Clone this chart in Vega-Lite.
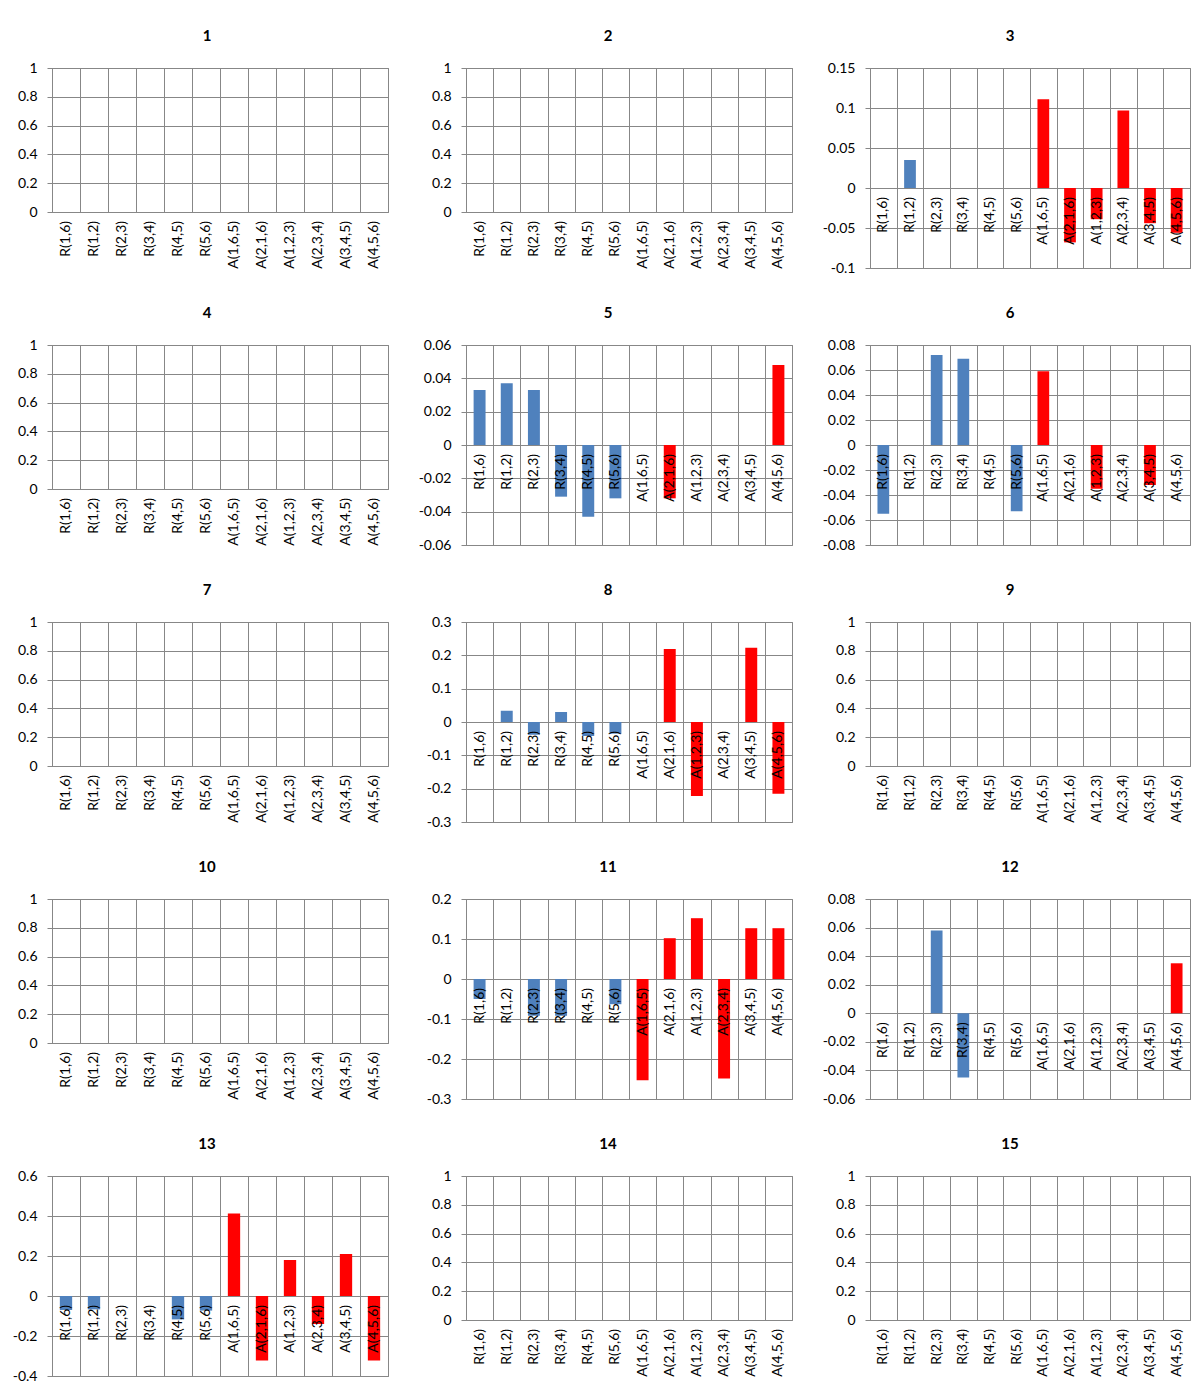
{
  "$schema": "https://vega.github.io/schema/vega-lite/v6.json",
  "padding": {"left": 11, "top": 28, "right": 0, "bottom": 0},
  "background": "white",
  "data": {"values": [
    {"panel":1,"pair":"R(1,6)","value":0},{"panel":1,"pair":"R(1,2)","value":0},{"panel":1,"pair":"R(2,3)","value":0},{"panel":1,"pair":"R(3,4)","value":0},{"panel":1,"pair":"R(4,5)","value":0},{"panel":1,"pair":"R(5,6)","value":0},{"panel":1,"pair":"A(1,6,5)","value":0},{"panel":1,"pair":"A(2,1,6)","value":0},{"panel":1,"pair":"A(1,2,3)","value":0},{"panel":1,"pair":"A(2,3,4)","value":0},{"panel":1,"pair":"A(3,4,5)","value":0},{"panel":1,"pair":"A(4,5,6)","value":0},
    {"panel":2,"pair":"R(1,6)","value":0},{"panel":2,"pair":"R(1,2)","value":0},{"panel":2,"pair":"R(2,3)","value":0},{"panel":2,"pair":"R(3,4)","value":0},{"panel":2,"pair":"R(4,5)","value":0},{"panel":2,"pair":"R(5,6)","value":0},{"panel":2,"pair":"A(1,6,5)","value":0},{"panel":2,"pair":"A(2,1,6)","value":0},{"panel":2,"pair":"A(1,2,3)","value":0},{"panel":2,"pair":"A(2,3,4)","value":0},{"panel":2,"pair":"A(3,4,5)","value":0},{"panel":2,"pair":"A(4,5,6)","value":0},
    {"panel":3,"pair":"R(1,6)","value":0},{"panel":3,"pair":"R(1,2)","value":0.035},{"panel":3,"pair":"R(2,3)","value":0},{"panel":3,"pair":"R(3,4)","value":0},{"panel":3,"pair":"R(4,5)","value":0},{"panel":3,"pair":"R(5,6)","value":0},{"panel":3,"pair":"A(1,6,5)","value":0.111},{"panel":3,"pair":"A(2,1,6)","value":-0.068},{"panel":3,"pair":"A(1,2,3)","value":-0.039},{"panel":3,"pair":"A(2,3,4)","value":0.097},{"panel":3,"pair":"A(3,4,5)","value":-0.044},{"panel":3,"pair":"A(4,5,6)","value":-0.056},
    {"panel":4,"pair":"R(1,6)","value":0},{"panel":4,"pair":"R(1,2)","value":0},{"panel":4,"pair":"R(2,3)","value":0},{"panel":4,"pair":"R(3,4)","value":0},{"panel":4,"pair":"R(4,5)","value":0},{"panel":4,"pair":"R(5,6)","value":0},{"panel":4,"pair":"A(1,6,5)","value":0},{"panel":4,"pair":"A(2,1,6)","value":0},{"panel":4,"pair":"A(1,2,3)","value":0},{"panel":4,"pair":"A(2,3,4)","value":0},{"panel":4,"pair":"A(3,4,5)","value":0},{"panel":4,"pair":"A(4,5,6)","value":0},
    {"panel":5,"pair":"R(1,6)","value":0.033},{"panel":5,"pair":"R(1,2)","value":0.037},{"panel":5,"pair":"R(2,3)","value":0.033},{"panel":5,"pair":"R(3,4)","value":-0.031},{"panel":5,"pair":"R(4,5)","value":-0.043},{"panel":5,"pair":"R(5,6)","value":-0.032},{"panel":5,"pair":"A(1,6,5)","value":0},{"panel":5,"pair":"A(2,1,6)","value":-0.032},{"panel":5,"pair":"A(1,2,3)","value":0},{"panel":5,"pair":"A(2,3,4)","value":0},{"panel":5,"pair":"A(3,4,5)","value":0},{"panel":5,"pair":"A(4,5,6)","value":0.048},
    {"panel":6,"pair":"R(1,6)","value":-0.055},{"panel":6,"pair":"R(1,2)","value":0},{"panel":6,"pair":"R(2,3)","value":0.072},{"panel":6,"pair":"R(3,4)","value":0.069},{"panel":6,"pair":"R(4,5)","value":0},{"panel":6,"pair":"R(5,6)","value":-0.053},{"panel":6,"pair":"A(1,6,5)","value":0.059},{"panel":6,"pair":"A(2,1,6)","value":0},{"panel":6,"pair":"A(1,2,3)","value":-0.035},{"panel":6,"pair":"A(2,3,4)","value":0},{"panel":6,"pair":"A(3,4,5)","value":-0.032},{"panel":6,"pair":"A(4,5,6)","value":0},
    {"panel":7,"pair":"R(1,6)","value":0},{"panel":7,"pair":"R(1,2)","value":0},{"panel":7,"pair":"R(2,3)","value":0},{"panel":7,"pair":"R(3,4)","value":0},{"panel":7,"pair":"R(4,5)","value":0},{"panel":7,"pair":"R(5,6)","value":0},{"panel":7,"pair":"A(1,6,5)","value":0},{"panel":7,"pair":"A(2,1,6)","value":0},{"panel":7,"pair":"A(1,2,3)","value":0},{"panel":7,"pair":"A(2,3,4)","value":0},{"panel":7,"pair":"A(3,4,5)","value":0},{"panel":7,"pair":"A(4,5,6)","value":0},
    {"panel":8,"pair":"R(1,6)","value":0},{"panel":8,"pair":"R(1,2)","value":0.034},{"panel":8,"pair":"R(2,3)","value":-0.038},{"panel":8,"pair":"R(3,4)","value":0.03},{"panel":8,"pair":"R(4,5)","value":-0.042},{"panel":8,"pair":"R(5,6)","value":-0.035},{"panel":8,"pair":"A(1,6,5)","value":0},{"panel":8,"pair":"A(2,1,6)","value":0.219},{"panel":8,"pair":"A(1,2,3)","value":-0.222},{"panel":8,"pair":"A(2,3,4)","value":0},{"panel":8,"pair":"A(3,4,5)","value":0.223},{"panel":8,"pair":"A(4,5,6)","value":-0.215},
    {"panel":9,"pair":"R(1,6)","value":0},{"panel":9,"pair":"R(1,2)","value":0},{"panel":9,"pair":"R(2,3)","value":0},{"panel":9,"pair":"R(3,4)","value":0},{"panel":9,"pair":"R(4,5)","value":0},{"panel":9,"pair":"R(5,6)","value":0},{"panel":9,"pair":"A(1,6,5)","value":0},{"panel":9,"pair":"A(2,1,6)","value":0},{"panel":9,"pair":"A(1,2,3)","value":0},{"panel":9,"pair":"A(2,3,4)","value":0},{"panel":9,"pair":"A(3,4,5)","value":0},{"panel":9,"pair":"A(4,5,6)","value":0},
    {"panel":10,"pair":"R(1,6)","value":0},{"panel":10,"pair":"R(1,2)","value":0},{"panel":10,"pair":"R(2,3)","value":0},{"panel":10,"pair":"R(3,4)","value":0},{"panel":10,"pair":"R(4,5)","value":0},{"panel":10,"pair":"R(5,6)","value":0},{"panel":10,"pair":"A(1,6,5)","value":0},{"panel":10,"pair":"A(2,1,6)","value":0},{"panel":10,"pair":"A(1,2,3)","value":0},{"panel":10,"pair":"A(2,3,4)","value":0},{"panel":10,"pair":"A(3,4,5)","value":0},{"panel":10,"pair":"A(4,5,6)","value":0},
    {"panel":11,"pair":"R(1,6)","value":-0.05},{"panel":11,"pair":"R(1,2)","value":0},{"panel":11,"pair":"R(2,3)","value":-0.092},{"panel":11,"pair":"R(3,4)","value":-0.092},{"panel":11,"pair":"R(4,5)","value":0},{"panel":11,"pair":"R(5,6)","value":-0.063},{"panel":11,"pair":"A(1,6,5)","value":-0.253},{"panel":11,"pair":"A(2,1,6)","value":0.102},{"panel":11,"pair":"A(1,2,3)","value":0.152},{"panel":11,"pair":"A(2,3,4)","value":-0.249},{"panel":11,"pair":"A(3,4,5)","value":0.127},{"panel":11,"pair":"A(4,5,6)","value":0.127},
    {"panel":12,"pair":"R(1,6)","value":0},{"panel":12,"pair":"R(1,2)","value":0},{"panel":12,"pair":"R(2,3)","value":0.058},{"panel":12,"pair":"R(3,4)","value":-0.045},{"panel":12,"pair":"R(4,5)","value":0},{"panel":12,"pair":"R(5,6)","value":0},{"panel":12,"pair":"A(1,6,5)","value":0},{"panel":12,"pair":"A(2,1,6)","value":0},{"panel":12,"pair":"A(1,2,3)","value":0},{"panel":12,"pair":"A(2,3,4)","value":0},{"panel":12,"pair":"A(3,4,5)","value":0},{"panel":12,"pair":"A(4,5,6)","value":0.035},
    {"panel":13,"pair":"R(1,6)","value":-0.07},{"panel":13,"pair":"R(1,2)","value":-0.067},{"panel":13,"pair":"R(2,3)","value":0},{"panel":13,"pair":"R(3,4)","value":0},{"panel":13,"pair":"R(4,5)","value":-0.117},{"panel":13,"pair":"R(5,6)","value":-0.073},{"panel":13,"pair":"A(1,6,5)","value":0.413},{"panel":13,"pair":"A(2,1,6)","value":-0.323},{"panel":13,"pair":"A(1,2,3)","value":0.18},{"panel":13,"pair":"A(2,3,4)","value":-0.14},{"panel":13,"pair":"A(3,4,5)","value":0.21},{"panel":13,"pair":"A(4,5,6)","value":-0.323},
    {"panel":14,"pair":"R(1,6)","value":0},{"panel":14,"pair":"R(1,2)","value":0},{"panel":14,"pair":"R(2,3)","value":0},{"panel":14,"pair":"R(3,4)","value":0},{"panel":14,"pair":"R(4,5)","value":0},{"panel":14,"pair":"R(5,6)","value":0},{"panel":14,"pair":"A(1,6,5)","value":0},{"panel":14,"pair":"A(2,1,6)","value":0},{"panel":14,"pair":"A(1,2,3)","value":0},{"panel":14,"pair":"A(2,3,4)","value":0},{"panel":14,"pair":"A(3,4,5)","value":0},{"panel":14,"pair":"A(4,5,6)","value":0},
    {"panel":15,"pair":"R(1,6)","value":0},{"panel":15,"pair":"R(1,2)","value":0},{"panel":15,"pair":"R(2,3)","value":0},{"panel":15,"pair":"R(3,4)","value":0},{"panel":15,"pair":"R(4,5)","value":0},{"panel":15,"pair":"R(5,6)","value":0},{"panel":15,"pair":"A(1,6,5)","value":0},{"panel":15,"pair":"A(2,1,6)","value":0},{"panel":15,"pair":"A(1,2,3)","value":0},{"panel":15,"pair":"A(2,3,4)","value":0},{"panel":15,"pair":"A(3,4,5)","value":0},{"panel":15,"pair":"A(4,5,6)","value":0}
  ]},
  "columns": 3,
  "align": "each",
  "bounds": "flush",
  "spacing": {"row": 77, "column": 78},
  "concat": [
    {"width": 336, "height": 144, "title": {"text": "1", "dx": -13},
     "transform": [{"filter": "datum.panel === 1"}],
     "encoding": {"x": {"field": "pair", "type": "nominal", "sort": null, "scale": {"paddingInner": 0, "paddingOuter": 0}, "axis": {"labels": false, "ticks": false, "domain": false, "grid": true, "tickBand": "extent", "title": null}}},
     "layer": [
       {"mark": {"type": "bar", "width": {"band": 0.44}},
        "encoding": {"y": {"field": "value", "type": "quantitative", "scale": {"domain": [0, 1], "nice": false, "zero": false}, "axis": {"values": [0, 0.2, 0.4, 0.6, 0.8, 1], "tickCount": 20, "format": "~g", "labelOverlap": false, "title": null}},
                     "color": {"condition": {"test": "datum.pair[0] === 'R'", "value": "#4F81BD"}, "value": "#FF0000"}}},
       {"mark": {"type": "text", "angle": 270, "align": "right", "baseline": "middle", "dx": -9, "font": "Lato", "fontSize": 14, "color": "#000"},
        "encoding": {"y": {"datum": 0}, "text": {"field": "pair"}}}
     ]},
    {"width": 326, "height": 144, "title": {"text": "2", "dx": -21},
     "transform": [{"filter": "datum.panel === 2"}],
     "encoding": {"x": {"field": "pair", "type": "nominal", "sort": null, "scale": {"paddingInner": 0, "paddingOuter": 0}, "axis": {"labels": false, "ticks": false, "domain": false, "grid": true, "tickBand": "extent", "title": null}}},
     "layer": [
       {"mark": {"type": "bar", "width": {"band": 0.44}},
        "encoding": {"y": {"field": "value", "type": "quantitative", "scale": {"domain": [0, 1], "nice": false, "zero": false}, "axis": {"values": [0, 0.2, 0.4, 0.6, 0.8, 1], "tickCount": 20, "format": "~g", "labelOverlap": false, "title": null}},
                     "color": {"condition": {"test": "datum.pair[0] === 'R'", "value": "#4F81BD"}, "value": "#FF0000"}}},
       {"mark": {"type": "text", "angle": 270, "align": "right", "baseline": "middle", "dx": -9, "font": "Lato", "fontSize": 14, "color": "#000"},
        "encoding": {"y": {"datum": 0}, "text": {"field": "pair"}}}
     ]},
    {"width": 320, "height": 200, "title": {"text": "3", "dx": -20},
     "transform": [{"filter": "datum.panel === 3"}],
     "encoding": {"x": {"field": "pair", "type": "nominal", "sort": null, "scale": {"paddingInner": 0, "paddingOuter": 0}, "axis": {"labels": false, "ticks": false, "domain": false, "grid": true, "tickBand": "extent", "title": null}}},
     "layer": [
       {"mark": {"type": "bar", "width": {"band": 0.44}},
        "encoding": {"y": {"field": "value", "type": "quantitative", "scale": {"domain": [-0.1, 0.15], "nice": false, "zero": false}, "axis": {"values": [-0.1, -0.05, 0, 0.05, 0.1, 0.15], "tickCount": 20, "format": "~g", "labelOverlap": false, "title": null}},
                     "color": {"condition": {"test": "datum.pair[0] === 'R'", "value": "#4F81BD"}, "value": "#FF0000"}}},
       {"mark": {"type": "text", "angle": 270, "align": "right", "baseline": "middle", "dx": -9, "font": "Lato", "fontSize": 14, "color": "#000"},
        "encoding": {"y": {"datum": 0}, "text": {"field": "pair"}}}
     ]},
    {"width": 336, "height": 144, "title": {"text": "4", "dx": -13},
     "transform": [{"filter": "datum.panel === 4"}],
     "encoding": {"x": {"field": "pair", "type": "nominal", "sort": null, "scale": {"paddingInner": 0, "paddingOuter": 0}, "axis": {"labels": false, "ticks": false, "domain": false, "grid": true, "tickBand": "extent", "title": null}}},
     "layer": [
       {"mark": {"type": "bar", "width": {"band": 0.44}},
        "encoding": {"y": {"field": "value", "type": "quantitative", "scale": {"domain": [0, 1], "nice": false, "zero": false}, "axis": {"values": [0, 0.2, 0.4, 0.6, 0.8, 1], "tickCount": 20, "format": "~g", "labelOverlap": false, "title": null}},
                     "color": {"condition": {"test": "datum.pair[0] === 'R'", "value": "#4F81BD"}, "value": "#FF0000"}}},
       {"mark": {"type": "text", "angle": 270, "align": "right", "baseline": "middle", "dx": -9, "font": "Lato", "fontSize": 14, "color": "#000"},
        "encoding": {"y": {"datum": 0}, "text": {"field": "pair"}}}
     ]},
    {"width": 326, "height": 200, "title": {"text": "5", "dx": -21},
     "transform": [{"filter": "datum.panel === 5"}],
     "encoding": {"x": {"field": "pair", "type": "nominal", "sort": null, "scale": {"paddingInner": 0, "paddingOuter": 0}, "axis": {"labels": false, "ticks": false, "domain": false, "grid": true, "tickBand": "extent", "title": null}}},
     "layer": [
       {"mark": {"type": "bar", "width": {"band": 0.44}},
        "encoding": {"y": {"field": "value", "type": "quantitative", "scale": {"domain": [-0.06, 0.06], "nice": false, "zero": false}, "axis": {"values": [-0.06, -0.04, -0.02, 0, 0.02, 0.04, 0.06], "tickCount": 20, "format": "~g", "labelOverlap": false, "title": null}},
                     "color": {"condition": {"test": "datum.pair[0] === 'R'", "value": "#4F81BD"}, "value": "#FF0000"}}},
       {"mark": {"type": "text", "angle": 270, "align": "right", "baseline": "middle", "dx": -9, "font": "Lato", "fontSize": 14, "color": "#000"},
        "encoding": {"y": {"datum": 0}, "text": {"field": "pair"}}}
     ]},
    {"width": 320, "height": 200, "title": {"text": "6", "dx": -20},
     "transform": [{"filter": "datum.panel === 6"}],
     "encoding": {"x": {"field": "pair", "type": "nominal", "sort": null, "scale": {"paddingInner": 0, "paddingOuter": 0}, "axis": {"labels": false, "ticks": false, "domain": false, "grid": true, "tickBand": "extent", "title": null}}},
     "layer": [
       {"mark": {"type": "bar", "width": {"band": 0.44}},
        "encoding": {"y": {"field": "value", "type": "quantitative", "scale": {"domain": [-0.08, 0.08], "nice": false, "zero": false}, "axis": {"values": [-0.08, -0.06, -0.04, -0.02, 0, 0.02, 0.04, 0.06, 0.08], "tickCount": 20, "format": "~g", "labelOverlap": false, "title": null}},
                     "color": {"condition": {"test": "datum.pair[0] === 'R'", "value": "#4F81BD"}, "value": "#FF0000"}}},
       {"mark": {"type": "text", "angle": 270, "align": "right", "baseline": "middle", "dx": -9, "font": "Lato", "fontSize": 14, "color": "#000"},
        "encoding": {"y": {"datum": 0}, "text": {"field": "pair"}}}
     ]},
    {"width": 336, "height": 144, "title": {"text": "7", "dx": -13},
     "transform": [{"filter": "datum.panel === 7"}],
     "encoding": {"x": {"field": "pair", "type": "nominal", "sort": null, "scale": {"paddingInner": 0, "paddingOuter": 0}, "axis": {"labels": false, "ticks": false, "domain": false, "grid": true, "tickBand": "extent", "title": null}}},
     "layer": [
       {"mark": {"type": "bar", "width": {"band": 0.44}},
        "encoding": {"y": {"field": "value", "type": "quantitative", "scale": {"domain": [0, 1], "nice": false, "zero": false}, "axis": {"values": [0, 0.2, 0.4, 0.6, 0.8, 1], "tickCount": 20, "format": "~g", "labelOverlap": false, "title": null}},
                     "color": {"condition": {"test": "datum.pair[0] === 'R'", "value": "#4F81BD"}, "value": "#FF0000"}}},
       {"mark": {"type": "text", "angle": 270, "align": "right", "baseline": "middle", "dx": -9, "font": "Lato", "fontSize": 14, "color": "#000"},
        "encoding": {"y": {"datum": 0}, "text": {"field": "pair"}}}
     ]},
    {"width": 326, "height": 200, "title": {"text": "8", "dx": -21},
     "transform": [{"filter": "datum.panel === 8"}],
     "encoding": {"x": {"field": "pair", "type": "nominal", "sort": null, "scale": {"paddingInner": 0, "paddingOuter": 0}, "axis": {"labels": false, "ticks": false, "domain": false, "grid": true, "tickBand": "extent", "title": null}}},
     "layer": [
       {"mark": {"type": "bar", "width": {"band": 0.44}},
        "encoding": {"y": {"field": "value", "type": "quantitative", "scale": {"domain": [-0.3, 0.3], "nice": false, "zero": false}, "axis": {"values": [-0.3, -0.2, -0.1, 0, 0.1, 0.2, 0.3], "tickCount": 20, "format": "~g", "labelOverlap": false, "title": null}},
                     "color": {"condition": {"test": "datum.pair[0] === 'R'", "value": "#4F81BD"}, "value": "#FF0000"}}},
       {"mark": {"type": "text", "angle": 270, "align": "right", "baseline": "middle", "dx": -9, "font": "Lato", "fontSize": 14, "color": "#000"},
        "encoding": {"y": {"datum": 0}, "text": {"field": "pair"}}}
     ]},
    {"width": 320, "height": 144, "title": {"text": "9", "dx": -20},
     "transform": [{"filter": "datum.panel === 9"}],
     "encoding": {"x": {"field": "pair", "type": "nominal", "sort": null, "scale": {"paddingInner": 0, "paddingOuter": 0}, "axis": {"labels": false, "ticks": false, "domain": false, "grid": true, "tickBand": "extent", "title": null}}},
     "layer": [
       {"mark": {"type": "bar", "width": {"band": 0.44}},
        "encoding": {"y": {"field": "value", "type": "quantitative", "scale": {"domain": [0, 1], "nice": false, "zero": false}, "axis": {"values": [0, 0.2, 0.4, 0.6, 0.8, 1], "tickCount": 20, "format": "~g", "labelOverlap": false, "title": null}},
                     "color": {"condition": {"test": "datum.pair[0] === 'R'", "value": "#4F81BD"}, "value": "#FF0000"}}},
       {"mark": {"type": "text", "angle": 270, "align": "right", "baseline": "middle", "dx": -9, "font": "Lato", "fontSize": 14, "color": "#000"},
        "encoding": {"y": {"datum": 0}, "text": {"field": "pair"}}}
     ]},
    {"width": 336, "height": 144, "title": {"text": "10", "dx": -13},
     "transform": [{"filter": "datum.panel === 10"}],
     "encoding": {"x": {"field": "pair", "type": "nominal", "sort": null, "scale": {"paddingInner": 0, "paddingOuter": 0}, "axis": {"labels": false, "ticks": false, "domain": false, "grid": true, "tickBand": "extent", "title": null}}},
     "layer": [
       {"mark": {"type": "bar", "width": {"band": 0.44}},
        "encoding": {"y": {"field": "value", "type": "quantitative", "scale": {"domain": [0, 1], "nice": false, "zero": false}, "axis": {"values": [0, 0.2, 0.4, 0.6, 0.8, 1], "tickCount": 20, "format": "~g", "labelOverlap": false, "title": null}},
                     "color": {"condition": {"test": "datum.pair[0] === 'R'", "value": "#4F81BD"}, "value": "#FF0000"}}},
       {"mark": {"type": "text", "angle": 270, "align": "right", "baseline": "middle", "dx": -9, "font": "Lato", "fontSize": 14, "color": "#000"},
        "encoding": {"y": {"datum": 0}, "text": {"field": "pair"}}}
     ]},
    {"width": 326, "height": 200, "title": {"text": "11", "dx": -21},
     "transform": [{"filter": "datum.panel === 11"}],
     "encoding": {"x": {"field": "pair", "type": "nominal", "sort": null, "scale": {"paddingInner": 0, "paddingOuter": 0}, "axis": {"labels": false, "ticks": false, "domain": false, "grid": true, "tickBand": "extent", "title": null}}},
     "layer": [
       {"mark": {"type": "bar", "width": {"band": 0.44}},
        "encoding": {"y": {"field": "value", "type": "quantitative", "scale": {"domain": [-0.3, 0.2], "nice": false, "zero": false}, "axis": {"values": [-0.3, -0.2, -0.1, 0, 0.1, 0.2], "tickCount": 20, "format": "~g", "labelOverlap": false, "title": null}},
                     "color": {"condition": {"test": "datum.pair[0] === 'R'", "value": "#4F81BD"}, "value": "#FF0000"}}},
       {"mark": {"type": "text", "angle": 270, "align": "right", "baseline": "middle", "dx": -9, "font": "Lato", "fontSize": 14, "color": "#000"},
        "encoding": {"y": {"datum": 0}, "text": {"field": "pair"}}}
     ]},
    {"width": 320, "height": 200, "title": {"text": "12", "dx": -20},
     "transform": [{"filter": "datum.panel === 12"}],
     "encoding": {"x": {"field": "pair", "type": "nominal", "sort": null, "scale": {"paddingInner": 0, "paddingOuter": 0}, "axis": {"labels": false, "ticks": false, "domain": false, "grid": true, "tickBand": "extent", "title": null}}},
     "layer": [
       {"mark": {"type": "bar", "width": {"band": 0.44}},
        "encoding": {"y": {"field": "value", "type": "quantitative", "scale": {"domain": [-0.06, 0.08], "nice": false, "zero": false}, "axis": {"values": [-0.06, -0.04, -0.02, 0, 0.02, 0.04, 0.06, 0.08], "tickCount": 20, "format": "~g", "labelOverlap": false, "title": null}},
                     "color": {"condition": {"test": "datum.pair[0] === 'R'", "value": "#4F81BD"}, "value": "#FF0000"}}},
       {"mark": {"type": "text", "angle": 270, "align": "right", "baseline": "middle", "dx": -9, "font": "Lato", "fontSize": 14, "color": "#000"},
        "encoding": {"y": {"datum": 0}, "text": {"field": "pair"}}}
     ]},
    {"width": 336, "height": 200, "title": {"text": "13", "dx": -13},
     "transform": [{"filter": "datum.panel === 13"}],
     "encoding": {"x": {"field": "pair", "type": "nominal", "sort": null, "scale": {"paddingInner": 0, "paddingOuter": 0}, "axis": {"labels": false, "ticks": false, "domain": false, "grid": true, "tickBand": "extent", "title": null}}},
     "layer": [
       {"mark": {"type": "bar", "width": {"band": 0.44}},
        "encoding": {"y": {"field": "value", "type": "quantitative", "scale": {"domain": [-0.4, 0.6], "nice": false, "zero": false}, "axis": {"values": [-0.4, -0.2, 0, 0.2, 0.4, 0.6], "tickCount": 20, "format": "~g", "labelOverlap": false, "title": null}},
                     "color": {"condition": {"test": "datum.pair[0] === 'R'", "value": "#4F81BD"}, "value": "#FF0000"}}},
       {"mark": {"type": "text", "angle": 270, "align": "right", "baseline": "middle", "dx": -9, "font": "Lato", "fontSize": 14, "color": "#000"},
        "encoding": {"y": {"datum": 0}, "text": {"field": "pair"}}}
     ]},
    {"width": 326, "height": 144, "title": {"text": "14", "dx": -21},
     "transform": [{"filter": "datum.panel === 14"}],
     "encoding": {"x": {"field": "pair", "type": "nominal", "sort": null, "scale": {"paddingInner": 0, "paddingOuter": 0}, "axis": {"labels": false, "ticks": false, "domain": false, "grid": true, "tickBand": "extent", "title": null}}},
     "layer": [
       {"mark": {"type": "bar", "width": {"band": 0.44}},
        "encoding": {"y": {"field": "value", "type": "quantitative", "scale": {"domain": [0, 1], "nice": false, "zero": false}, "axis": {"values": [0, 0.2, 0.4, 0.6, 0.8, 1], "tickCount": 20, "format": "~g", "labelOverlap": false, "title": null}},
                     "color": {"condition": {"test": "datum.pair[0] === 'R'", "value": "#4F81BD"}, "value": "#FF0000"}}},
       {"mark": {"type": "text", "angle": 270, "align": "right", "baseline": "middle", "dx": -9, "font": "Lato", "fontSize": 14, "color": "#000"},
        "encoding": {"y": {"datum": 0}, "text": {"field": "pair"}}}
     ]},
    {"width": 320, "height": 144, "title": {"text": "15", "dx": -20},
     "transform": [{"filter": "datum.panel === 15"}],
     "encoding": {"x": {"field": "pair", "type": "nominal", "sort": null, "scale": {"paddingInner": 0, "paddingOuter": 0}, "axis": {"labels": false, "ticks": false, "domain": false, "grid": true, "tickBand": "extent", "title": null}}},
     "layer": [
       {"mark": {"type": "bar", "width": {"band": 0.44}},
        "encoding": {"y": {"field": "value", "type": "quantitative", "scale": {"domain": [0, 1], "nice": false, "zero": false}, "axis": {"values": [0, 0.2, 0.4, 0.6, 0.8, 1], "tickCount": 20, "format": "~g", "labelOverlap": false, "title": null}},
                     "color": {"condition": {"test": "datum.pair[0] === 'R'", "value": "#4F81BD"}, "value": "#FF0000"}}},
       {"mark": {"type": "text", "angle": 270, "align": "right", "baseline": "middle", "dx": -9, "font": "Lato", "fontSize": 14, "color": "#000"},
        "encoding": {"y": {"datum": 0}, "text": {"field": "pair"}}}
     ]}
  ],
  "config": {
    "font": "Lato",
    "locale": {"number": {"decimal": ".", "thousands": ",", "grouping": [3], "currency": ["$", ""], "minus": "-"}},
    "view": {"stroke": "#878787", "strokeWidth": 1},
    "axis": {"gridColor": "#878787", "gridOpacity": 1, "gridWidth": 1, "domainColor": "#878787", "domainWidth": 1, "tickColor": "#878787", "tickWidth": 1, "labelFont": "Lato", "labelFontSize": 14, "labelColor": "#000000", "labelOverlap": false, "labelFlush": false},
    "axisY": {"tickSize": 5, "labelPadding": 10},
    "title": {"font": "Lato", "fontSize": 15, "fontWeight": "bold", "color": "#000000", "offset": 17, "anchor": "middle"}
  }
}
